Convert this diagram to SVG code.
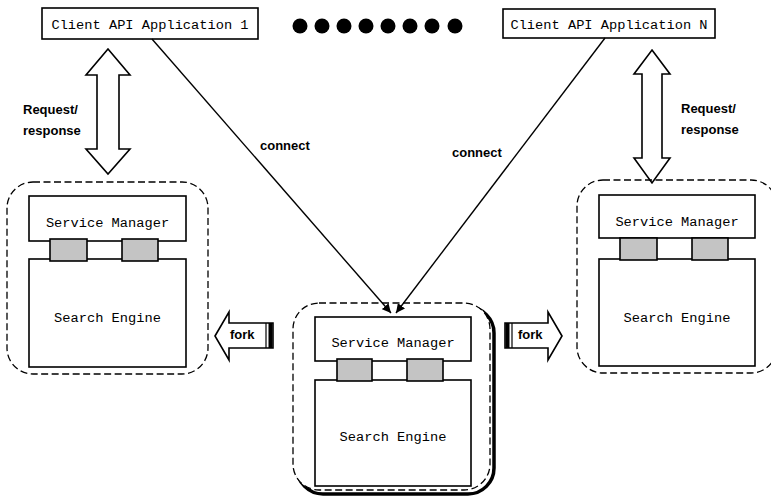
<svg xmlns="http://www.w3.org/2000/svg" width="771" height="500" viewBox="0 0 771 500">
<defs>
<style>
.box{fill:#fff;stroke:#000;stroke-width:1.6}
.port{fill:#c4c4c4;stroke:#000;stroke-width:1.6}
.cont{fill:none;stroke:#000;stroke-width:1.3;stroke-dasharray:7,3.5}
.mono{font-family:"Liberation Mono","DejaVu Sans Mono",monospace;font-size:13.7px;fill:#000;text-anchor:middle}
.lbl{font-family:"Liberation Sans","DejaVu Sans",sans-serif;font-size:13px;font-weight:bold;fill:#000}
.big{fill:#fff;stroke:#000;stroke-width:1.6;stroke-linejoin:miter}
.conn{stroke:#000;stroke-width:1.4;fill:none}
.dot{fill:#000}
</style>
<marker id="ah" viewBox="0 0 10 10" refX="10" refY="5" markerWidth="9" markerHeight="9" markerUnits="userSpaceOnUse" orient="auto">
<path d="M0,0 L10,5 L0,10 Z" fill="#000"/>
</marker>
</defs>

<g id="app1">
<rect class="box" x="42" y="8" width="216" height="31"/>
<text class="mono" x="150" y="28.5">Client API Application 1</text>
</g>

<g id="appN">
<rect class="box" x="503" y="9" width="212" height="29"/>
<text class="mono" x="609" y="28.5">Client API Application N</text>
</g>

<g id="dots">
<circle class="dot" cx="300" cy="26" r="7.5"/>
<circle class="dot" cx="322" cy="26" r="7.5"/>
<circle class="dot" cx="344" cy="26" r="7.5"/>
<circle class="dot" cx="366" cy="26" r="7.5"/>
<circle class="dot" cx="388" cy="26" r="7.5"/>
<circle class="dot" cx="410" cy="26" r="7.5"/>
<circle class="dot" cx="432" cy="26" r="7.5"/>
<circle class="dot" cx="455" cy="26" r="7.5"/>
</g>

<g id="reqLeft">
<path class="big" d="M108,49 L130,75 L119,75 L119,149 L130,149 L108,174 L86,149 L97,149 L97,75 L86,75 Z"/>
<text class="lbl" x="23" y="114">Request/</text>
<text class="lbl" x="23" y="135">response</text>
</g>

<g id="reqRight">
<path class="big" d="M652,50 L670,74 L662,74 L662,158 L670,158 L652,183 L634,158 L642,158 L642,74 L634,74 Z"/>
<text class="lbl" x="681" y="113">Request/</text>
<text class="lbl" x="681" y="134">response</text>
</g>

<g id="nodeLeft">
<rect class="cont" x="7" y="182" width="201" height="192" rx="26" ry="26"/>
<rect class="box" x="29" y="196" width="157" height="45"/>
<rect class="box" x="29" y="259" width="157" height="108"/>
<rect class="port" x="50" y="239" width="37" height="22"/>
<rect class="port" x="122" y="239" width="36" height="22"/>
<text class="mono" x="107.5" y="227">Service Manager</text>
<text class="mono" x="107.5" y="322">Search Engine</text>
</g>

<g id="nodeRight">
<rect class="cont" x="577" y="180" width="200" height="193" rx="26" ry="26"/>
<rect class="box" x="599" y="195" width="156" height="43"/>
<rect class="box" x="599" y="259" width="156" height="107"/>
<rect class="port" x="620" y="238" width="37" height="22"/>
<rect class="port" x="692" y="238" width="36" height="22"/>
<text class="mono" x="677" y="226">Service Manager</text>
<text class="mono" x="677" y="322">Search Engine</text>
</g>

<g id="nodeCenter">
<rect x="297" y="307" width="197" height="187" rx="26" ry="26" fill="none" stroke="#000" stroke-width="3.5"/>
<rect class="cont" x="293" y="303" width="197" height="187" rx="26" ry="26" style="fill:#fff"/>
<rect class="box" x="315" y="317" width="156" height="44"/>
<rect class="box" x="315" y="380" width="156" height="106"/>
<rect class="port" x="337" y="359" width="35" height="22"/>
<rect class="port" x="407" y="359" width="36" height="22"/>
<text class="mono" x="393" y="347">Service Manager</text>
<text class="mono" x="393" y="441">Search Engine</text>
</g>

<g id="forkLeft">
<path class="big" d="M215,336 L229,312 L229,323 L273,323 L273,348 L229,348 L229,360 Z"/>
<line x1="266" y1="323" x2="266" y2="348" stroke="#000" stroke-width="1.2"/>
<line x1="270.5" y1="323" x2="270.5" y2="348" stroke="#000" stroke-width="4"/>
<text class="lbl" x="230" y="339">fork</text>
</g>

<g id="forkRight">
<path class="big" d="M562,336 L548,312 L548,323 L505,323 L505,348 L548,348 L548,360 Z"/>
<line x1="507.5" y1="323" x2="507.5" y2="348" stroke="#000" stroke-width="4"/>
<line x1="512" y1="323" x2="512" y2="348" stroke="#000" stroke-width="1.2"/>
<text class="lbl" x="518" y="339">fork</text>
</g>

<g id="connectors">
<line class="conn" x1="152" y1="39" x2="391" y2="313" marker-end="url(#ah)"/>
<line class="conn" x1="605" y1="38" x2="396" y2="313" marker-end="url(#ah)"/>
<text class="lbl" x="260" y="150">connect</text>
<text class="lbl" x="452" y="157">connect</text>
</g>
</svg>
